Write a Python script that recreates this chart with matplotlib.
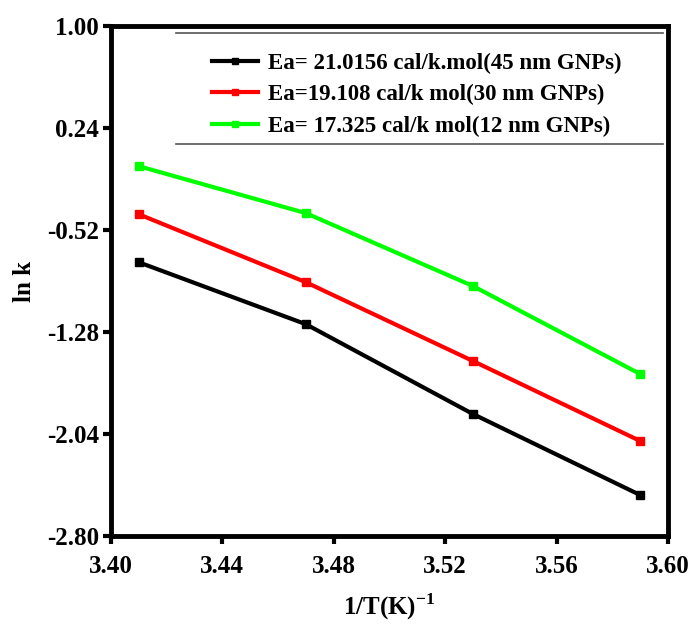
import matplotlib.pyplot as plt
from matplotlib.lines import Line2D

inv_T = [3.41, 3.47, 3.53, 3.59]
lnk_45nm = [-0.759, -1.221, -1.891, -2.495]
lnk_30nm = [-0.401, -0.908, -1.496, -2.092]
lnk_12nm = [-0.043, -0.393, -0.937, -1.593]

labels = ['Ea= 21.0156 cal/k.mol(45 nm GNPs)',
          'Ea=19.108 cal/k mol(30 nm GNPs)',
          'Ea= 17.325 cal/k mol(12 nm GNPs)']
colors = ['black', '#ff0000', '#00ff00']

xticks = [3.40, 3.44, 3.48, 3.52, 3.56, 3.60]
yticks = [-2.80, -2.04, -1.28, -0.52, 0.24, 1.00]

plt.rcParams['font.family'] = ['Liberation Serif', 'DejaVu Serif']
plt.rcParams['font.weight'] = 'bold'
plt.rcParams['mathtext.fontset'] = 'custom'
plt.rcParams['mathtext.rm'] = 'Liberation Serif:bold'
plt.rcParams['mathtext.bf'] = 'Liberation Serif:bold'

fig = plt.figure(figsize=(6.96, 6.24), dpi=100)
ax = fig.add_axes([0.159, 0.141, 0.801, 0.817])

for ys, c, lab in zip([lnk_45nm, lnk_30nm, lnk_12nm], colors, labels):
    ax.plot(inv_T, ys, color=c, lw=3, marker='s', ms=6, label=lab)

ax.set_xlim(3.40, 3.60)
ax.set_ylim(-2.80, 1.00)
ax.set_xticks(xticks)
ax.set_yticks(yticks)
ax.set_xticklabels(['%.2f' % v for v in xticks])
ax.set_yticklabels(['%.2f' % v for v in yticks])
ax.tick_params(direction='out', length=5.5, width=3, labelsize=18)
ax.tick_params(axis='x', pad=8)
ax.tick_params(axis='y', pad=3)
for sp in ax.spines.values():
    sp.set_linewidth(3.5)

ax.set_xlabel('1/T(K)$^{\\mathbf{-1}}$', fontsize=18, fontweight='bold', labelpad=10)
ax.set_ylabel('ln k', fontsize=18, fontweight='bold', labelpad=8)

leg = ax.legend(loc='center', bbox_to_anchor=(0.549, 0.866), frameon=False,
                handlelength=2.0, labelspacing=0.45, handletextpad=0.45,
                markerscale=0.8, prop={'weight': 'bold', 'size': 16.5})

# legend rules above and below
for yy in [0.986, 0.769]:
    ax.add_line(Line2D([0.117, 0.991], [yy, yy], transform=ax.transAxes,
                       color='#555555', lw=1.2))

fig.savefig('out.png', dpi=100)
